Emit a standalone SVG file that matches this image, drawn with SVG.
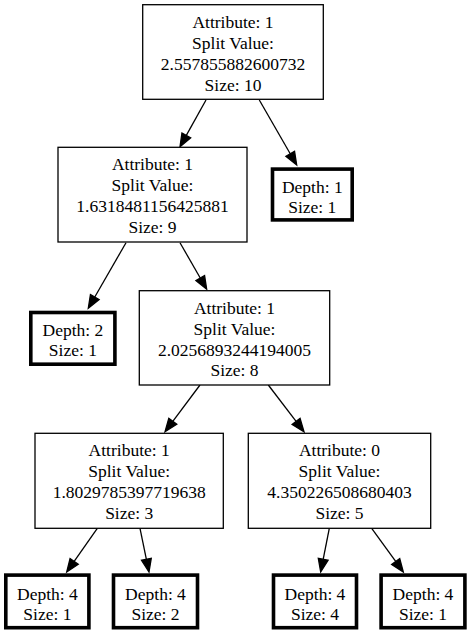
<svg xmlns="http://www.w3.org/2000/svg" width="470" height="634" viewBox="0 0 470 634">
<style>
text{font-family:"Liberation Serif","Times New Roman",serif;font-size:17.5px;fill:#000;text-anchor:middle}
.n{fill:#fff;stroke:#000;stroke-width:1.3}
.l{fill:#fff;stroke:#000;stroke-width:3.6}
.e line{stroke:#000;stroke-width:1.3}
.e polygon{fill:#000;stroke:#000;stroke-width:1.3}
</style>
<rect width="470" height="634" fill="#fff"/>
<g class="e" id="edges">
<line x1="206" y1="100" x2="186.32" y2="135.34"/><polygon points="180,146.7 190.69,137.77 181.95,132.91"/>
<line x1="259.3" y1="100" x2="290.22" y2="153.73"/><polygon points="296.7,165 294.55,151.24 285.89,156.22"/>
<line x1="126" y1="242.7" x2="94.78" y2="297.03"/><polygon points="88.3,308.3 99.12,299.52 90.45,294.54"/>
<line x1="180" y1="242.7" x2="200.24" y2="278.02"/><polygon points="206.7,289.3 204.58,275.53 195.9,280.51"/>
<line x1="200" y1="385" x2="172.8" y2="421.3"/><polygon points="165,431.7 176.8,424.3 168.8,418.3"/>
<line x1="268.3" y1="385" x2="296.1" y2="421.37"/><polygon points="304,431.7 300.07,418.33 292.13,424.41"/>
<line x1="97.3" y1="528.3" x2="74.16" y2="561.35"/><polygon points="66.7,572 78.26,564.22 70.06,558.48"/>
<line x1="140" y1="528.3" x2="146.38" y2="559.27"/><polygon points="149,572 151.28,558.26 141.48,560.28"/>
<line x1="329.3" y1="528.3" x2="323.21" y2="559.24"/><polygon points="320.7,572 328.12,560.21 318.3,558.27"/>
<line x1="371.7" y1="528.3" x2="395.68" y2="561.47"/><polygon points="403.3,572 399.73,558.54 391.63,564.4"/>
</g>
<g id="n0"><rect class="n" x="142.7" y="4.7" width="180.6" height="94.6"/>
<text x="233" y="27.5">Attribute: 1</text><text x="233" y="48.5">Split Value:</text><text x="233" y="69.5">2.557855882600732</text><text x="233" y="90.5">Size: 10</text></g>
<g id="n1"><rect class="n" x="58" y="147.3" width="189" height="94.7"/>
<text x="152.5" y="170.3">Attribute: 1</text><text x="152.5" y="191.3">Split Value:</text><text x="152.5" y="212.3">1.6318481156425881</text><text x="152.5" y="233.3">Size: 9</text></g>
<g id="l1"><rect class="l" x="272.5" y="169.1" width="79.7" height="50.8"/>
<text x="312.3" y="193">Depth: 1</text><text x="312.3" y="213">Size: 1</text></g>
<g id="l2"><rect class="l" x="30.8" y="312.5" width="84.1" height="51.7"/>
<text x="72.9" y="335.5">Depth: 2</text><text x="72.9" y="355.5">Size: 1</text></g>
<g id="n2"><rect class="n" x="139.3" y="290.7" width="190.4" height="94.3"/>
<text x="234.5" y="313.5">Attribute: 1</text><text x="234.5" y="334.5">Split Value:</text><text x="234.5" y="355.5">2.0256893244194005</text><text x="234.5" y="376">Size: 8</text></g>
<g id="n3"><rect class="n" x="35" y="433.3" width="188.3" height="95"/>
<text x="129.2" y="456.3">Attribute: 1</text><text x="129.2" y="477.3">Split Value:</text><text x="129.2" y="498">1.8029785397719638</text><text x="129.2" y="518.8">Size: 3</text></g>
<g id="n4"><rect class="n" x="248.3" y="433.3" width="182.4" height="95"/>
<text x="339.5" y="456.3">Attribute: 0</text><text x="339.5" y="477.3">Split Value:</text><text x="339.5" y="498">4.350226508680403</text><text x="339.5" y="518.8">Size: 5</text></g>
<g id="l3"><rect class="l" x="5.8" y="575.1" width="83.1" height="52.6"/>
<text x="47.4" y="599.5">Depth: 4</text><text x="47.4" y="619.5">Size: 1</text></g>
<g id="l4"><rect class="l" x="113.5" y="575.1" width="84" height="52.6"/>
<text x="155.5" y="599.5">Depth: 4</text><text x="155.5" y="619.5">Size: 2</text></g>
<g id="l5"><rect class="l" x="273.5" y="575.1" width="83" height="52.6"/>
<text x="315" y="599.5">Depth: 4</text><text x="315" y="619.5">Size: 4</text></g>
<g id="l6"><rect class="l" x="381.1" y="575.1" width="83.8" height="52.6"/>
<text x="423" y="599.5">Depth: 4</text><text x="423" y="619.5">Size: 1</text></g>
</svg>
